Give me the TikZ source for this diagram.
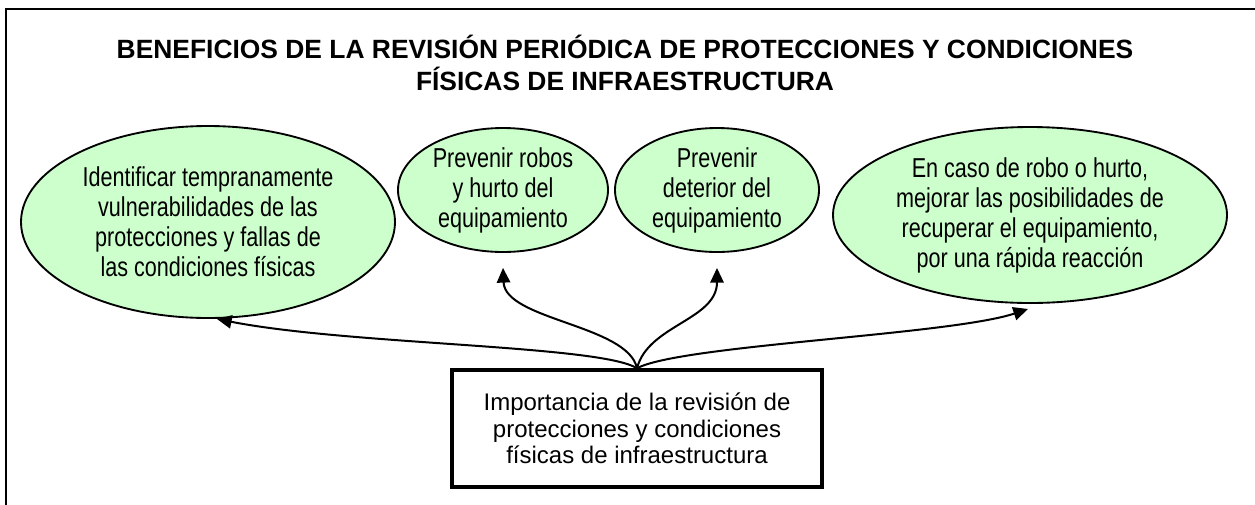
\documentclass[tikz,border=0pt]{standalone}
\usepackage{fontspec}
\setmainfont{Liberation Sans}
\newfontfamily\narrowfont[FakeStretch=0.79]{Liberation Sans}
\usetikzlibrary{shapes.geometric,arrows.meta,calc}
\definecolor{benefill}{HTML}{CCFFCC}
\tikzset{
  benefit/.style={ellipse, draw=black, line width=1.4pt, fill=benefill, inner sep=0pt,
    align=center, font=\narrowfont\fontsize{20.5}{22.5}\selectfont},
  mainbox/.style={rectangle, draw=black, line width=2.6pt, fill=white, inner sep=0pt,
    align=center, font=\fontsize{18}{20}\selectfont},
  link/.style={line width=1.5pt, -{Triangle[length=11pt,width=10pt]}},
  frame/.style={line width=1.5pt}
}
\begin{document}
\begin{tikzpicture}[x=0.75pt,y=-0.75pt]
\useasboundingbox (0,0) rectangle (1255,504);
\begin{scope}
\clip (0,0) rectangle (1255,504);
\draw[frame] (6,9) rectangle (1270,520);
\end{scope}
\node[align=center, font=\fontsize{19.8}{24}\selectfont\bfseries] (title) at (625,63)
  {BENEFICIOS DE LA REVISIÓN PERIÓDICA DE PROTECCIONES Y CONDICIONES\\FÍSICAS DE INFRAESTRUCTURA};
\node[benefit, minimum width=280.5pt, minimum height=144pt] (e1) at (208,222)
  {Identificar tempranamente\\vulnerabilidades de las\\protecciones y fallas de\\las condiciones físicas};
\node[benefit, minimum width=157.5pt, minimum height=93pt] (e2) at (503,190)
  {Prevenir robos\\y hurto del\\equipamiento};
\node[benefit, minimum width=153pt, minimum height=93pt] (e3) at (717,190)
  {Prevenir\\deterior del\\equipamiento};
\node[benefit, minimum width=295.5pt, minimum height=132pt] (e4) at (1030,215)
  {En caso de robo o hurto,\\mejorar las posibilidades de\\recuperar el equipamiento,\\por una rápida reacción};
\node[mainbox, minimum width=277.5pt, minimum height=87.75pt] (box) at (637,428.5)
  {Importancia de la revisión de\\protecciones y condiciones\\físicas de infraestructura};
\coordinate (t1) at (217,319);
\coordinate (t2) at ($(e2.south)+(0,15)$);
\coordinate (t3) at ($(e3.south)+(0,15)$);
\coordinate (t4) at (1028,309);
\draw[link] (box.north) .. controls (600,345) and (350,345) .. (t1);
\draw[link] (box.north) .. controls (628,325) and (505,320) .. (t2);
\draw[link] (box.north) .. controls (648,325) and (717,320) .. (t3);
\draw[link] (box.north) .. controls (680,345) and (950,335) .. (t4);
\end{tikzpicture}
\end{document}
